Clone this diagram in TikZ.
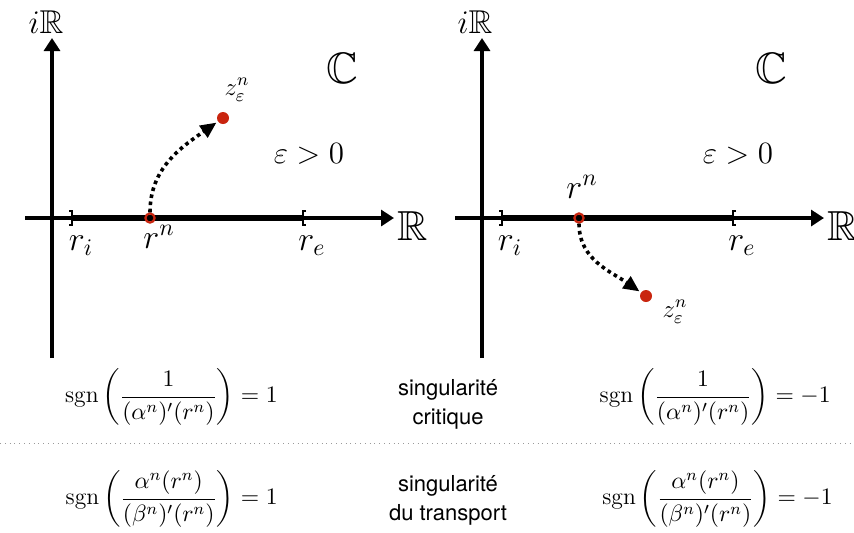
\RequirePackage{fix-cm}
\documentclass[tikz,border=0pt]{standalone}
\usepackage{amsmath,amssymb}
\usepackage{fontspec}
\setsansfont{TeX Gyre Heros}
\usetikzlibrary{arrows.meta}
\definecolor{poleRed}{HTML}{C9250F}
\definecolor{ruleGray}{HTML}{9A9A9A}
\tikzset{
    axis/.style={
        line width=1.6pt,
        -{Triangle[length=6.5pt,width=8pt]}
    },
    segment/.style={line width=3pt},
    bracket/.style={line width=0.9pt},
    motion/.style={
        line width=1.8pt,
        dash pattern=on 1.8pt off 1.8pt,
        -{Triangle[length=8pt,width=7pt]},
        shorten >=0.8pt
    },
    root/.style={
        circle,
        draw=poleRed,
        line width=1.1pt,
        inner sep=0pt,
        minimum size=4.6pt
    },
    pole/.style={
        circle,
        fill=poleRed,
        inner sep=0pt,
        minimum size=6pt
    },
    axislabel/.style={anchor=base, inner sep=0pt, font=\fontsize{21}{25}\selectfont},
    planelabel/.style={anchor=base, inner sep=0pt, font=\fontsize{22}{26}\selectfont},
    imlabel/.style={anchor=base, inner sep=0pt, font=\fontsize{16.5}{19}\selectfont},
    ptlabel/.style={anchor=base, inner sep=0pt, font=\fontsize{17}{20}\selectfont},
    zlabel/.style={anchor=base, inner sep=0pt, font=\fontsize{12.5}{15}\selectfont},
    epslabel/.style={anchor=base, inner sep=0pt, font=\fontsize{15.5}{18}\selectfont},
    formula/.style={anchor=east, inner sep=0pt, font=\fontsize{11.8}{14}\selectfont},
    caption/.style={
        align=center,
        inner sep=0pt,
        font=\sffamily\fontsize{11}{14.5}\selectfont
    },
    separator/.style={draw=ruleGray, line width=0.4pt, dotted}
}

\begin{document}
\begin{tikzpicture}[x=0.5pt, y=0.5pt]
    \useasboundingbox (0,0) rectangle (854,-532);

    % left plane, epsilon > 0, pole moves up
    \coordinate (vbotL) at (52,-358);
    \coordinate (vtopL) at (52,-38);
    \coordinate (hlftL) at (25,-218);
    \coordinate (hrgtL) at (394,-218);
    \coordinate (riL) at (72,-218);
    \coordinate (reL) at (303,-218);
    \draw[axis] (vbotL) -- (vtopL);
    \draw[axis] (hlftL) -- (hrgtL);
    \draw[segment] (riL) -- (reL);
    \draw[bracket] ([xshift=-1.5pt,yshift=3.5pt]riL) -| ([yshift=-3.5pt]riL) -- ++(-1.5pt,0);
    \draw[bracket] ([xshift=1.5pt,yshift=3.5pt]reL) -| ([yshift=-3.5pt]reL) -- ++(1.5pt,0);
    \node[root] (rnL) at (150,-218) {};
    \node[pole] (zL) at (223,-118) {};
    \draw[motion] (rnL) to[out=90, in=-145] (zL);

    \node[imlabel] (imL) at (46,-33) {$i\mathbb{R}$};
    \node[planelabel] (cL) at (342,-83) {$\mathbb{C}$};
    \node[axislabel] (reaL) at (413,-240) {$\mathbb{R}$};
    \node[epslabel] (epsL) at (309,-163) {$\varepsilon > 0$};
    \node[ptlabel] (riLbl) at (81,-250) {$r_i$};
    \node[ptlabel] (reLbl) at (312,-250) {$r_e$};
    \node[ptlabel] (rnLbl) at (159,-248) {$r^n$};
    \node[zlabel] (zLbl) at (237,-95) {$z_\varepsilon^n$};

    % right plane, pole moves down
    \coordinate (vbotR) at (482,-358);
    \coordinate (vtopR) at (482,-38);
    \coordinate (hlftR) at (455,-218);
    \coordinate (hrgtR) at (824,-218);
    \coordinate (riR) at (502,-218);
    \coordinate (reR) at (733,-218);
    \draw[axis] (vbotR) -- (vtopR);
    \draw[axis] (hlftR) -- (hrgtR);
    \draw[segment] (riR) -- (reR);
    \draw[bracket] ([xshift=-1.5pt,yshift=3.5pt]riR) -| ([yshift=-3.5pt]riR) -- ++(-1.5pt,0);
    \draw[bracket] ([xshift=1.5pt,yshift=3.5pt]reR) -| ([yshift=-3.5pt]reR) -- ++(1.5pt,0);
    \node[root] (rnR) at (579,-218) {};
    \node[pole] (zR) at (646,-296) {};
    \draw[motion] (rnR) to[out=-90, in=145] (zR);

    \node[imlabel] (imR) at (475,-33) {$i\mathbb{R}$};
    \node[planelabel] (cR) at (771,-83) {$\mathbb{C}$};
    \node[axislabel] (reaR) at (843,-240) {$\mathbb{R}$};
    \node[epslabel] (epsR) at (738,-163) {$\varepsilon > 0$};
    \node[ptlabel] (riRLbl) at (510,-250) {$r_i$};
    \node[ptlabel] (reRLbl) at (742,-250) {$r_e$};
    \node[ptlabel] (rnRLbl) at (582,-198) {$r^n$};
    \node[zlabel] (zRLbl) at (675,-317) {$z_\varepsilon^n$};

    % sign table
    \node[formula] (critL) at (278,-397)
        {$\displaystyle \operatorname{sgn}\left(\frac{1}{(\alpha^n)'(r^n)}\right) = 1$};
    \node[caption] (critTxt) at (448,-404) {singularité\\critique};
    \node[formula] (critR) at (831,-397)
        {$\displaystyle \operatorname{sgn}\left(\frac{1}{(\alpha^n)'(r^n)}\right) = -1$};

    \coordinate (sepL) at (0,-443);
    \coordinate (sepR) at (854,-443);
    \draw[separator] (sepL) -- (sepR);

    \node[formula] (trL) at (278,-499)
        {$\displaystyle \operatorname{sgn}\left(\frac{\alpha^n(r^n)}{(\beta^n)'(r^n)}\right) = 1$};
    \node[caption] (trTxt) at (448,-500) {singularité\\du transport};
    \node[formula] (trR) at (833,-499)
        {$\displaystyle \operatorname{sgn}\left(\frac{\alpha^n(r^n)}{(\beta^n)'(r^n)}\right) = -1$};
\end{tikzpicture}
\end{document}
